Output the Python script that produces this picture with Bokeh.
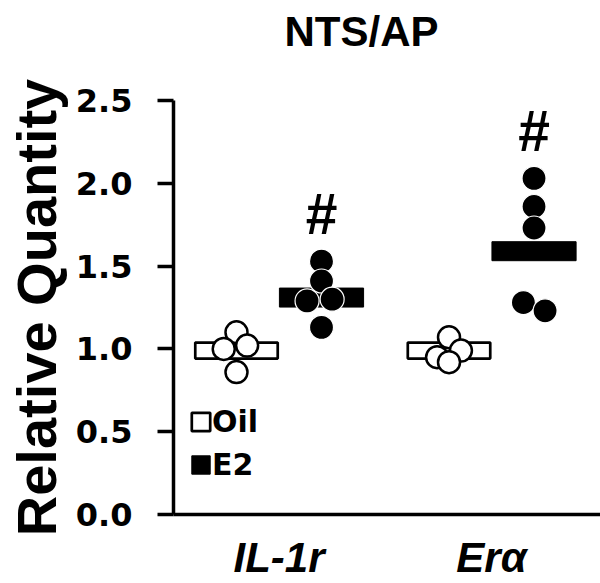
from bokeh.plotting import figure
from bokeh.models import FixedTicker, Legend, LegendItem, Range1d, Title
from bokeh.embed import file_html
from bokeh.resources import INLINE
from bokeh.core.properties import value

# ---- data ----
title_text = "NTS/AP"
genes = ["IL-1r", "Erα"]
treatments = ["Oil", "E2"]

il1r_oil = [1.10, 1.00, 1.02, 0.86]
il1r_e2 = [1.53, 1.41, 1.29, 1.30, 1.13]
era_oil = [1.07, 0.99, 0.95, 0.92]
era_e2 = [2.03, 1.86, 1.73, 1.28, 1.23]

mean_oil = [0.99, 0.99]
mean_e2 = [1.31, 1.59]

# horizontal scatter of the dots inside a column (fraction of a column width)
jit_il1r_oil = [0.0, -0.15, 0.125, 0.0]
jit_il1r_e2 = [0.0, 0.0, -0.17, 0.125, 0.0]
jit_era_oil = [0.0, 0.14, -0.14, 0.0]
jit_era_e2 = [0.0, 0.0, 0.0, -0.125, 0.13]

significant_e2 = [True, True]  # '#' over E2 columns

y_ticks = [0.0, 0.5, 1.0, 1.5, 2.0, 2.5]
y_tick_labels = ["0.0", "0.5", "1.0", "1.5", "2.0", "2.5"]

# ---- layout helpers ----
GROUP_STEP = 2.5
def col_x(gi, ti):
    return gi * GROUP_STEP + (ti - 0.5)

oil_sets = [(il1r_oil, jit_il1r_oil), (era_oil, jit_era_oil)]
e2_sets = [(il1r_e2, jit_il1r_e2), (era_e2, jit_era_e2)]

def points(sets, ti):
    xs, ys = [], []
    for gi, (vals, jit) in enumerate(sets):
        for v, j in zip(vals, jit):
            xs.append(col_x(gi, ti) + j)
            ys.append(v)
    return xs, ys

oil_x, oil_y = points(oil_sets, 0)
e2_x, e2_y = points(e2_sets, 1)

FONT = "Liberation Sans"

p = figure(width=600, height=583, output_backend="svg", toolbar_location=None,
           x_range=Range1d(-1.241, 3.782), y_range=Range1d(0, 2.5),
           min_border_left=173, min_border_right=0, min_border_top=100,
           min_border_bottom=68)
p.outline_line_color = None
p.xgrid.visible = False
p.ygrid.visible = False
p.background_fill_color = "white"
p.border_fill_color = "white"

# title (outermost above panel) lifted by a thin spacer panel next to the frame
p.title = Title(text=title_text, align="left", offset=111, standoff=0,
                vertical_align="bottom", text_font=FONT,
                text_font_size="42px", text_font_style="bold",
                text_color="black")
p.add_layout(Title(text=" ", text_font_size="2px", standoff=42,
                   text_color="white"), "above")

# mean bars and dots
oil_bar = p.rect(x=[col_x(g, 0) for g in range(len(genes))], y=mean_oil,
                 width=0.97, height=16, height_units="screen",
                 fill_color="white", line_color="black", line_width=2.7)
oil_pts = p.scatter(x=oil_x, y=oil_y, size=22, marker="circle",
                    fill_color="white", line_color="black", line_width=2.5)
e2_bar = p.rect(x=[col_x(g, 1) for g in range(len(genes))], y=mean_e2,
                width=0.99, height=19, height_units="screen",
                fill_color="black", line_color="black", line_width=1)
e2_pts = p.scatter(x=e2_x, y=e2_y, size=24, marker="circle",
                   fill_color="black", line_color="white", line_width=1.2)

# significance marks
hx, hy = [], []
for gi, (vals, _) in enumerate(e2_sets):
    if significant_e2[gi]:
        hx.append(col_x(gi, 1))
        hy.append(max(vals) + 0.285)
p.text(x=hx, y=hy, text=["#"] * len(hx), text_align=value("center"),
       text_baseline=value("middle"), text_font=value(FONT),
       text_font_size=value("57px"), text_font_style=value("bold"),
       text_color="black")

# axes
p.yaxis.ticker = FixedTicker(ticks=y_ticks)
p.yaxis.major_label_overrides = dict(zip(y_ticks, y_tick_labels))
p.yaxis.axis_label = "Relative Quantity"
p.yaxis.axis_label_text_font = FONT
p.yaxis.axis_label_text_font_size = "56px"
p.yaxis.axis_label_text_font_style = "bold"
p.yaxis.axis_label_standoff = 5
p.yaxis.major_label_text_font = "DejaVu Sans"
p.yaxis.major_label_text_font_size = "32px"
p.yaxis.major_label_text_font_style = "bold"
p.yaxis.major_label_standoff = 25
p.yaxis.major_tick_out = 16
p.yaxis.major_tick_in = 0
p.yaxis.minor_tick_line_color = None
p.yaxis.major_tick_line_width = 3.5
p.yaxis.axis_line_width = 3.5

centers = [col_x(g, 0.5) for g in range(len(genes))]
p.xaxis.ticker = FixedTicker(ticks=centers)
p.xaxis.major_label_overrides = dict(zip(centers, genes))
p.xaxis.major_label_text_font = FONT
p.xaxis.major_label_text_font_size = "42px"
p.xaxis.major_label_text_font_style = "bold italic"
p.xaxis.major_label_standoff = 19
p.xaxis.major_tick_out = 0
p.xaxis.major_tick_in = 0
p.xaxis.minor_tick_line_color = None
p.xaxis.axis_line_width = 3.5

for ax in (p.xaxis[0], p.yaxis[0]):
    ax.axis_line_color = "black"
    ax.major_tick_line_color = "black"
    ax.major_label_text_color = "black"
    ax.axis_label_text_color = "black"

legend = Legend(items=[LegendItem(label=treatments[0], renderers=[oil_bar]),
                       LegendItem(label=treatments[1], renderers=[e2_bar])],
                location=(16, 32), padding=0, margin=0, spacing=8,
                glyph_width=23, glyph_height=23, label_standoff=0,
                label_text_font="DejaVu Sans", label_text_font_size="30px",
                label_text_font_style="bold", label_text_color="black",
                border_line_color=None, background_fill_alpha=0)
p.add_layout(legend, "center")

open("out.html", "w").write(file_html(p, INLINE))
